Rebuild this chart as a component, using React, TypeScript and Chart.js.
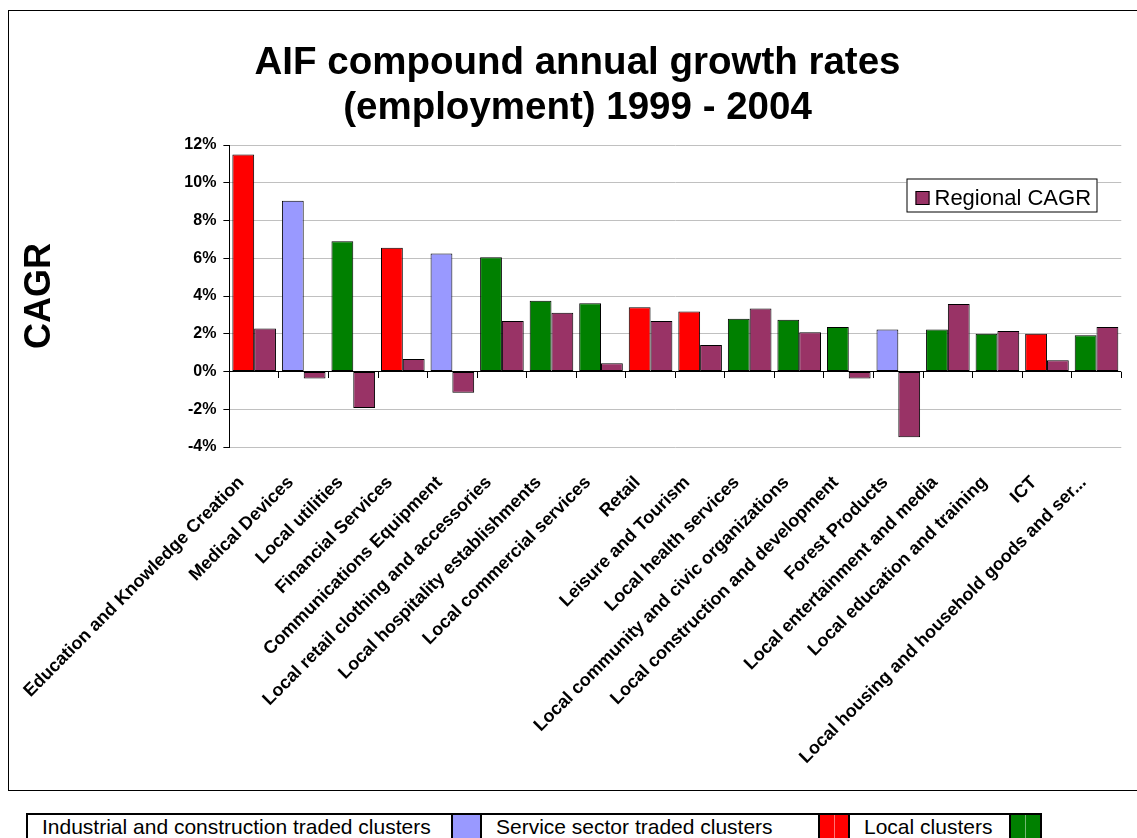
import React, { useEffect, useRef } from 'react';
import { Chart, registerables } from 'chart.js';

Chart.register(...registerables);

// ---------- data ----------
const categories: string[] = [
  'Education and Knowledge Creation',
  'Medical Devices',
  'Local utilities',
  'Financial Services',
  'Communications Equipment',
  'Local retail clothing and accessories',
  'Local hospitality establishments',
  'Local commercial services',
  'Retail',
  'Leisure and Tourism',
  'Local health services',
  'Local community and civic organizations',
  'Local construction and development',
  'Forest Products',
  'Local entertainment and media',
  'Local education and training',
  'ICT',
  'Local housing and household goods and ser...',
];

// cluster group of each category
const groups: string[] = [
  'service', 'industrial', 'local', 'service', 'industrial', 'local',
  'local', 'local', 'service', 'service', 'local', 'local',
  'local', 'industrial', 'local', 'local', 'service', 'local',
];

// AIF CAGR (%)
const aifValues: number[] = [
  11.5, 9.05, 6.9, 6.55, 6.25, 6.05, 3.75, 3.62, 3.4, 3.18, 2.8, 2.74,
  2.36, 2.22, 2.22, 2.0, 2.0, 1.92,
];

// Regional CAGR (%)
const regionalValues: number[] = [
  2.28, -0.37, -1.94, 0.66, -1.12, 2.67, 3.11, 0.44, 2.67, 1.4, 3.34, 2.08,
  -0.37, -3.48, 3.57, 2.15, 0.6, 2.36,
];

const yMin = -4;
const yMax = 12;
const yStep = 2;

const titleLines: string[] = ['AIF compound annual growth rates', '(employment) 1999 - 2004'];
const yTitle = 'CAGR';
const regionalLabel = 'Regional CAGR';

const groupLegend: { key: string; label: string }[] = [
  { key: 'industrial', label: 'Industrial and construction traded clusters' },
  { key: 'service', label: 'Service sector traded clusters' },
  { key: 'local', label: 'Local clusters' },
];

const groupColors: Record<string, string> = {
  industrial: '#9999FF',
  service: '#FF0000',
  local: '#008000',
};
const regionalColor = '#993366';

const FONT = '"Liberation Sans", Arial, Helvetica, sans-serif';

// ---------- legend drawn inside the plot ----------
const boxLegendPlugin = {
  id: 'boxLegend',
  afterDraw(chart: any, _args: any, opts: any) {
    const ds = chart.data.datasets[opts.datasetIndex];
    if (!ds) return;
    const ctx = chart.ctx as CanvasRenderingContext2D;
    ctx.save();
    ctx.fillStyle = '#ffffff';
    ctx.fillRect(opts.x, opts.y, opts.w, opts.h);
    ctx.strokeStyle = '#000000';
    ctx.lineWidth = 1;
    ctx.strokeRect(opts.x + 0.5, opts.y + 0.5, opts.w - 1, opts.h - 1);
    const sx = opts.x + 9;
    const sy = opts.y + 12.5;
    ctx.fillStyle = ds.backgroundColor as string;
    ctx.fillRect(sx, sy, 14, 14);
    ctx.strokeRect(sx + 0.5, sy + 0.5, 13, 13);
    ctx.fillStyle = '#000000';
    ctx.font = `22px ${FONT}`;
    ctx.textBaseline = 'alphabetic';
    ctx.textAlign = 'left';
    ctx.fillText(ds.label, opts.x + 28, opts.y + 26.5);
    ctx.restore();
  },
};

const CANVAS_W = 1128;
const CANVAS_H = 779;

export default function App() {
  const canvasRef = useRef<HTMLCanvasElement | null>(null);

  useEffect(() => {
    document.documentElement.style.overflow = 'hidden';
    document.body.style.overflow = 'hidden';
    const canvas = canvasRef.current;
    if (!canvas) return;

    Chart.defaults.font.family = FONT;
    Chart.defaults.color = '#000';

    const chart = new Chart(canvas, {
      type: 'bar',
      data: {
        labels: categories,
        datasets: [
          {
            label: 'AIF CAGR',
            data: aifValues,
            backgroundColor: groups.map((g) => groupColors[g]),
            borderColor: '#000000',
            borderWidth: 1,
            borderSkipped: false,
            categoryPercentage: 0.88,
            barPercentage: 1.0,
          },
          {
            label: regionalLabel,
            data: regionalValues,
            backgroundColor: regionalColor,
            borderColor: '#000000',
            borderWidth: 1,
            borderSkipped: false,
            categoryPercentage: 0.88,
            barPercentage: 1.0,
          },
        ],
      },
      options: {
        responsive: false,
        animation: false,
        layout: { padding: { left: 19, right: 10, top: 0, bottom: 0 } },
        plugins: {
          legend: { display: false },
          tooltip: { enabled: false },
          title: {
            display: true,
            text: titleLines,
            color: '#000',
            font: { family: FONT, size: 38.5, weight: 'bold', lineHeight: 45 / 38.5 },
            padding: { top: 29.5, bottom: 14.5 },
          },
          // @ts-ignore
          boxLegend: { datasetIndex: 1, x: 897.5, y: 167.5, w: 191, h: 34 },
        },
        scales: {
          x: {
            type: 'category',
            offset: true,
            grid: { display: false, drawTicks: false },
            border: { display: false },
            ticks: {
              autoSkip: false,
              minRotation: 45,
              maxRotation: 45,
              padding: 25,
              labelOffset: -13,
              color: '#000',
              font: { family: FONT, size: 18, weight: 'bold' },
            },
            afterFit: (s: any) => {
              s.height = CANVAS_H - 436;
            },
          },
          x2: {
            type: 'category',
            position: { y: 0 },
            offset: true,
            grid: {
              display: true,
              offset: true,
              drawOnChartArea: false,
              drawTicks: true,
              tickLength: 6,
              tickColor: '#000',
              tickWidth: 1,
            },
            border: { display: false },
            ticks: { display: false },
          },
          y: {
            min: yMin,
            max: yMax,
            ticks: {
              stepSize: yStep,
              padding: 7,
              color: '#000',
              font: { family: FONT, size: 16, weight: 'bold' },
              callback: (v: any) => `${v}%`,
            },
            grid: {
              color: (c: any) => (c.tick && c.tick.value === 0 ? '#000000' : '#c0c0c0'),
              tickColor: '#000',
              tickLength: 6,
              lineWidth: 1,
            },
            border: { display: true, color: '#000', width: 1 },
            title: {
              display: true,
              text: yTitle,
              color: '#000',
              font: { family: FONT, size: 36, weight: 'bold' },
              padding: { top: -12, bottom: 0 },
            },
            afterFit: (s: any) => {
              s.width = 199;
            },
          },
        },
      } as any,
      plugins: [boxLegendPlugin as any],
    });

    return () => {
      chart.destroy();
    };
  }, []);

  const legendText: React.CSSProperties = {
    boxSizing: 'border-box',
    paddingLeft: 14,
    whiteSpace: 'nowrap',
    fontFamily: FONT,
    fontSize: 21,
    color: '#000',
    overflow: 'hidden',
  };
  const swatch = (color: string, split: boolean, width: number, rightBorder: boolean): React.CSSProperties => ({
    boxSizing: 'border-box',
    width,
    height: '100%',
    borderLeft: '2px solid #000',
    borderRight: rightBorder ? '2px solid #000' : 'none',
    background: split
      ? `linear-gradient(to right, ${color} 0, ${color} calc(50% - 0.5px), rgba(255,255,255,0.45) calc(50% - 0.5px), rgba(255,255,255,0.45) calc(50% + 0.5px), ${color} calc(50% + 0.5px))`
      : color,
    backgroundColor: color,
  });

  return (
    <>
      <div
        style={{
          position: 'absolute',
          left: 8,
          top: 10,
          width: CANVAS_W,
          height: CANVAS_H,
          borderLeft: '1px solid #000',
          borderTop: '1px solid #000',
          borderBottom: '1px solid #000',
          background: '#fff',
        }}
      >
        <canvas ref={canvasRef} width={CANVAS_W} height={CANVAS_H} style={{ display: 'block' }} />
      </div>
      <div
        style={{
          position: 'absolute',
          left: 26,
          top: 813,
          width: 1016,
          height: 25,
          boxSizing: 'border-box',
          borderTop: '2px solid #000',
          borderLeft: '2px solid #000',
          borderRight: '2px solid #000',
          display: 'flex',
          flexDirection: 'row',
          alignItems: 'stretch',
          background: '#fff',
        }}
      >
        <div style={{ ...legendText, width: 423 }}>{groupLegend[0].label}</div>
        <div style={swatch(groupColors[groupLegend[0].key], false, 31, true)} />
        <div style={{ ...legendText, width: 336 }}>{groupLegend[1].label}</div>
        <div style={swatch(groupColors[groupLegend[1].key], true, 32, true)} />
        <div style={{ ...legendText, width: 159 }}>{groupLegend[2].label}</div>
        <div style={swatch(groupColors[groupLegend[2].key], true, 31, false)} />
      </div>
    </>
  );
}
